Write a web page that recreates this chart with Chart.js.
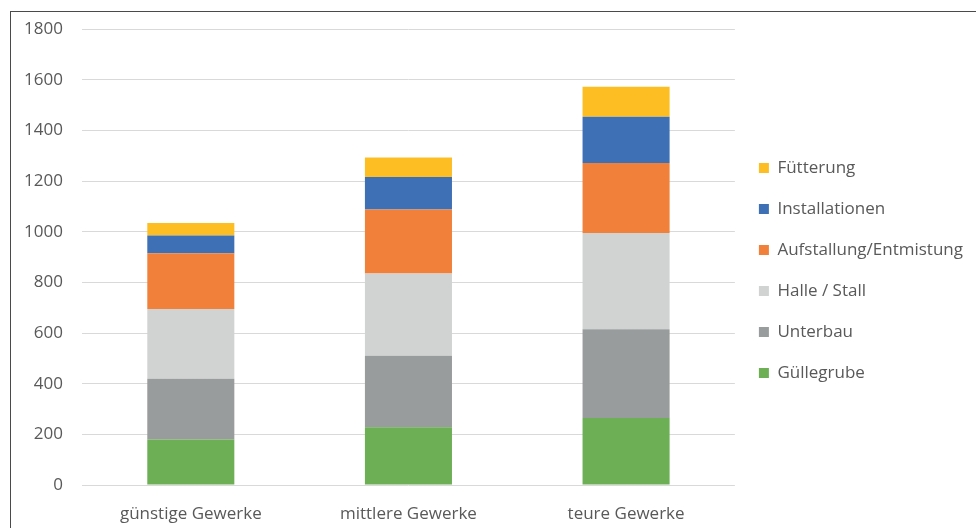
<!DOCTYPE html>
<html>
<head>
<meta charset="utf-8">
<script src="https://cdn.jsdelivr.net/npm/chart.js@4.4.1/dist/chart.umd.min.js"></script>
<style>
  html, body { margin: 0; padding: 0; background: #fff; overflow: hidden; }
  #wrap { position: relative; width: 976px; height: 528px; }
  #frame {
    position: absolute; left: 10px; top: 11px; right: -4px; bottom: -4px;
    border: 1px solid #4a4a4a;
    pointer-events: none;
  }
  canvas { position: absolute; left: 0; top: 0; }
</style>
</head>
<body>
<div id="wrap">
  <canvas id="chart" width="976" height="528"></canvas>
  <div id="frame"></div>
</div>
<script>
// DATA
const categories = ["günstige Gewerke", "mittlere Gewerke", "teure Gewerke"];
const yTicks = [0, 200, 400, 600, 800, 1000, 1200, 1400, 1600, 1800];

const guellegrube = [180, 228, 265];
const unterbau = [240, 282, 350];
const halleStall = [275, 325, 380];
const aufstallung = [220, 253, 277];
const installationen = [70, 128, 182];
const fuetterung = [50, 77, 119];

const TEXT = "#595959";
const FONT = "'Open Sans', sans-serif";

function series(label, data, color) {
  return {
    label: label,
    data: data,
    backgroundColor: color,
    borderWidth: 0,
    barPercentage: 0.4,
    categoryPercentage: 1,
  };
}

// legend sits a bit higher than the full canvas height would center it
const legendLift = {
  id: "legendLift",
  afterLayout(chart) {
    if (chart.legend) chart.legend.bottom -= 14;
  },
};

new Chart(document.getElementById("chart"), {
  type: "bar",
  data: {
    labels: categories,
    datasets: [
      series("Güllegrube", guellegrube, "#6caf55"),
      series("Unterbau", unterbau, "#999c9c"),
      series("Halle / Stall", halleStall, "#d1d3d2"),
      series("Aufstallung/Entmistung", aufstallung, "#f0803a"),
      series("Installationen", installationen, "#3e70b6"),
      series("Fütterung", fuetterung, "#fdbe23"),
    ],
  },
  plugins: [legendLift],
  options: {
    responsive: false,
    devicePixelRatio: 1,
    animation: false,
    layout: { padding: { top: 27, left: 0, right: 3, bottom: 0 } },
    plugins: {
      tooltip: { enabled: false },
      legend: {
        position: "right",
        reverse: true,
        labels: {
          boxWidth: 10,
          boxHeight: 10,
          padding: 24,
          color: TEXT,
          font: { family: FONT, size: 17 },
        },
      },
    },
    scales: {
      x: {
        stacked: true,
        grid: { display: false },
        border: { display: false },
        ticks: { color: TEXT, font: { family: FONT, size: 17 }, padding: 11 },
        afterFit: (s) => { s.height = 43; },
      },
      y: {
        stacked: true,
        min: yTicks[0],
        max: yTicks[yTicks.length - 1],
        afterBuildTicks: (s) => { s.ticks = yTicks.map(v => ({ value: v })); },
        grid: { color: "#d9d9d9", lineWidth: 1, drawTicks: false },
        border: { display: false },
        ticks: {
          color: TEXT,
          font: { family: FONT, size: 17 },
          padding: 19,
          callback: (v) => String(v),
        },
        afterFit: (s) => { s.width = 82; },
      },
    },
  },
});
</script>
</body>
</html>
